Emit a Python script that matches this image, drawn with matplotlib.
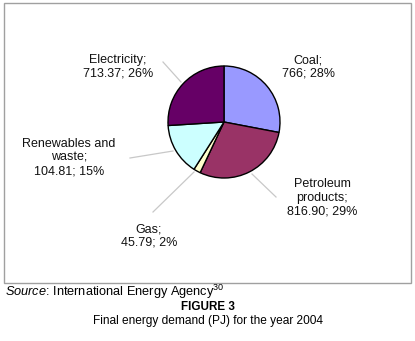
import matplotlib.pyplot as plt
from matplotlib.patches import Rectangle

plt.rcParams['font.family'] = ['Liberation Sans', 'DejaVu Sans']
plt.rcParams['mathtext.fontset'] = 'custom'
plt.rcParams['mathtext.rm'] = 'Liberation Sans'
plt.rcParams['mathtext.it'] = 'Liberation Sans:italic'

# Final energy demand 2004 (PJ) and share as drawn in the pie
fuels = ['Coal', 'Petroleum\nproducts', 'Gas', 'Renewables and\nwaste', 'Electricity']
pj = ['766', '816.90', '45.79', '104.81', '713.37']
share = [28, 29, 2, 15, 26]
colors = ['#9999ff', '#993366', '#ffffcc', '#ccffff', '#660066']

W, H = 415, 341
fig = plt.figure(figsize=(W / 100, H / 100), dpi=100)
ax = fig.add_axes([0, 0, 1, 1])

def Y(y):
    return H - y

# chart frame
ax.add_patch(Rectangle((4, Y(283)), 407, 280, fill=False, ec='#a0a0a0', lw=1))

ax.pie(share, colors=colors, startangle=90, counterclock=False,
       center=(224, Y(122)), radius=56, frame=True,
       wedgeprops=dict(edgecolor='black', linewidth=1))
ax.set_xlim(0, W)
ax.set_ylim(0, H)
ax.set_aspect('equal')
ax.axis('off')

# label placement (Excel style, hand placed)
label_pos = [(308, 67), (322, 198), (149, 236), (69, 158), (118, 67)]
for name, v, s, (x, y) in zip(fuels, pj, share, label_pos):
    ax.text(x, Y(y), f'{name};\n{v}; {s}%', ha='center', va='center',
            fontsize=9, linespacing=1.2, color='#111111')

# leader lines
leaders = [None, ((252, 174), (276, 197)), ((153, 212), (194, 172)),
           ((130, 158), (173, 151)), ((163, 62), (181, 82))]
for seg in leaders:
    if seg is None:
        continue
    (x0, y0), (x1, y1) = seg
    ax.plot([x0, x1], [Y(y0), Y(y1)], color='#c8c8c8', lw=0.9)

ax.text(5, Y(296), r'$\it{Source}$: International Energy Agency$^{30}$',
        fontsize=9.2, va='baseline', ha='left')
ax.text(W / 2, Y(307), 'FIGURE 3', fontsize=8.4, weight='bold', ha='center', va='center')
ax.text(W / 2, Y(321), 'Final energy demand (PJ) for the year 2004', fontsize=8.55,
        ha='center', va='center')

fig.savefig('out.png', dpi=100)
